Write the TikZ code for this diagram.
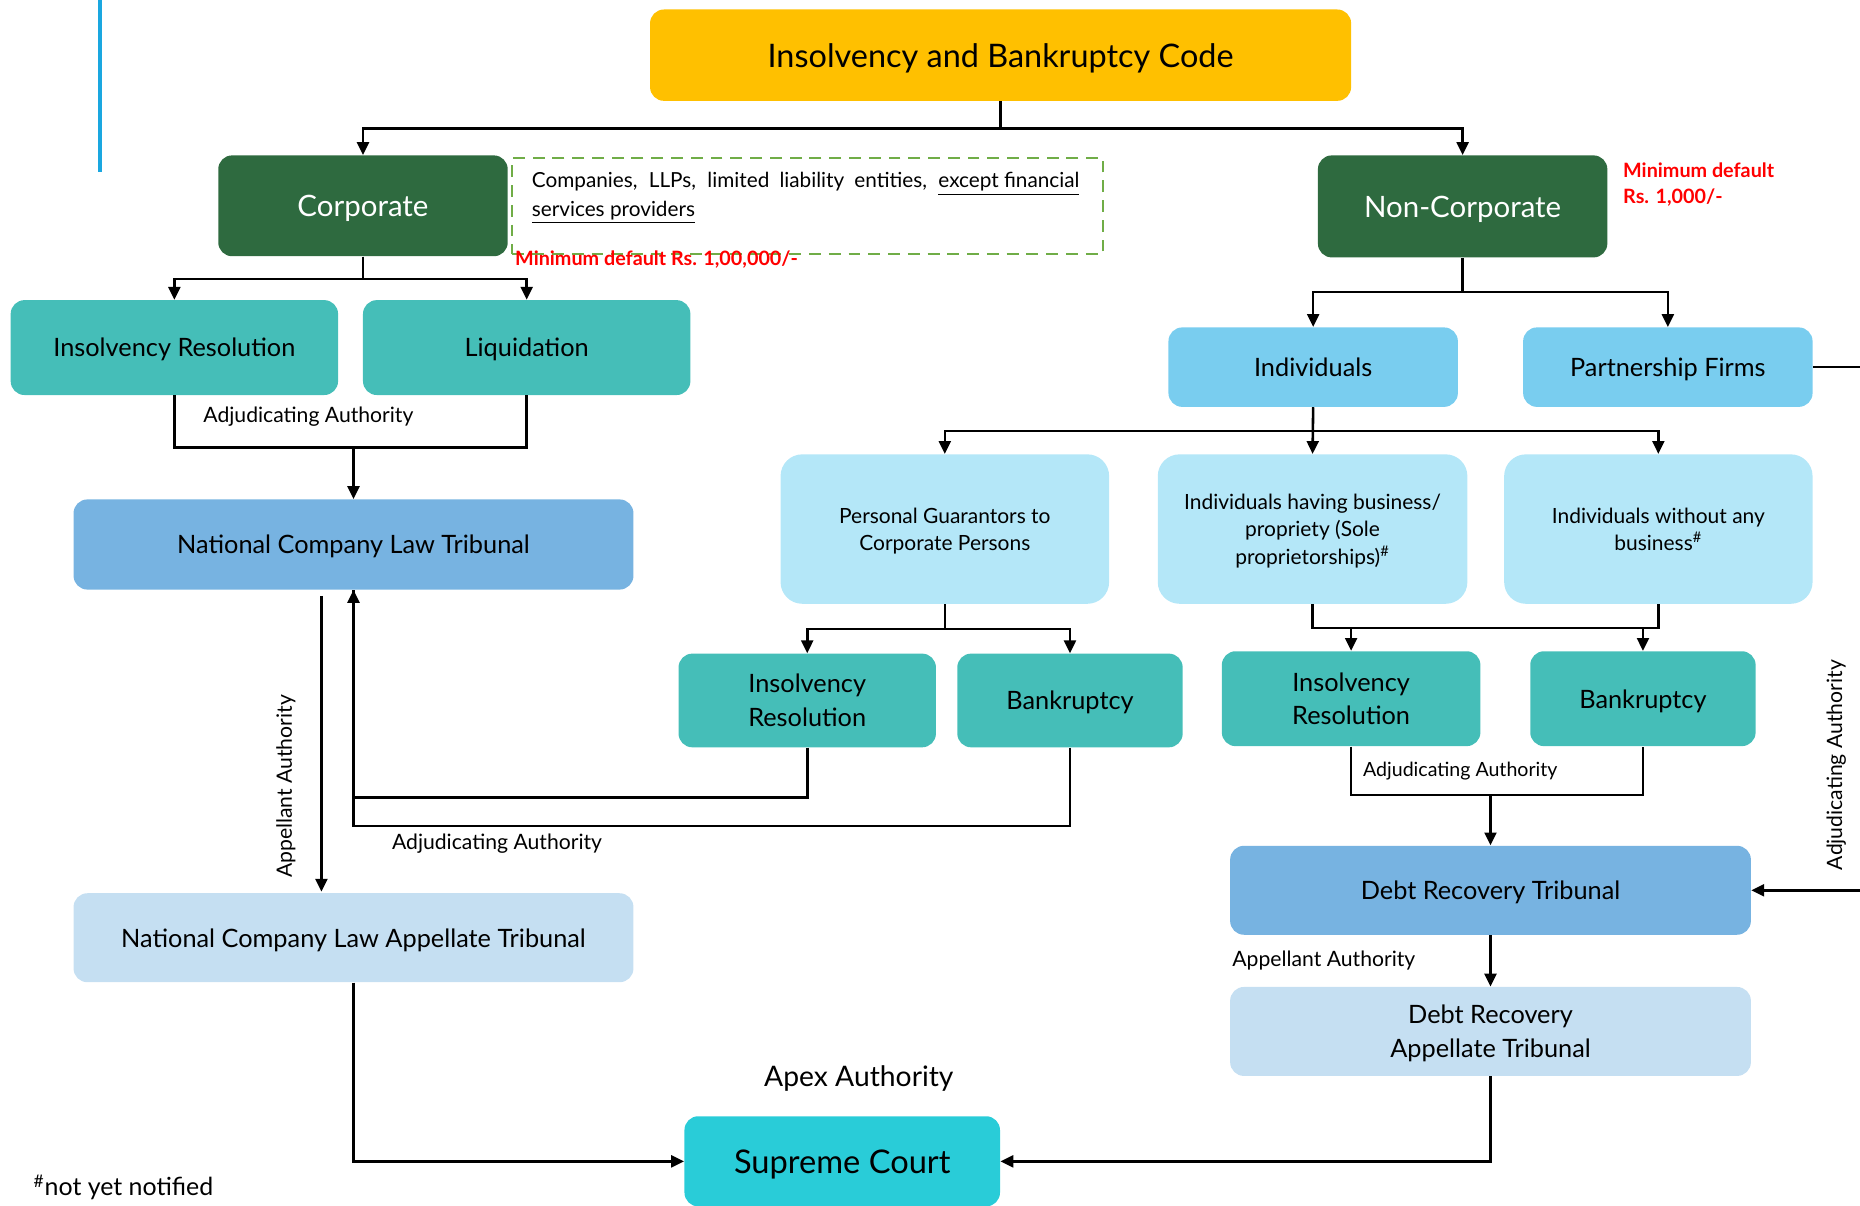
\documentclass[tikz,border=0pt]{standalone}
\usepackage{fontspec}
\setmainfont{Lato}
\usetikzlibrary{arrows.meta,calc}
\definecolor{ibcgold}{HTML}{FFC000}
\definecolor{darkgreen}{HTML}{2E6A3F}
\definecolor{tealbox}{HTML}{45BEB8}
\definecolor{midblue}{HTML}{77B3E1}
\definecolor{paleblue}{HTML}{C5DFF2}
\definecolor{skyblue}{HTML}{79CDEF}
\definecolor{icebox}{HTML}{B4E7F8}
\definecolor{courtcyan}{HTML}{29CCD8}
\definecolor{notegreen}{HTML}{70AD47}
\definecolor{alertred}{HTML}{FF0000}
\definecolor{barblue}{HTML}{1AA7E0}
\begin{document}
\begin{tikzpicture}[x=0.6pt,y=-0.6pt,
  wh/.style 2 args={minimum width=#1*0.6pt, minimum height=#2*0.6pt},
  box/.style={rounded corners=7pt, inner sep=2pt, align=center, text depth=0pt,
    font=\fontsize{12.8}{17}\selectfont},
  bigbox/.style={box, rounded corners=11pt, font=\fontsize{10.6}{13.8}\selectfont},
  conn/.style={line width=1.3pt, black},
  arr/.style={conn, -{Triangle[length=6.5pt,width=6pt]}},
  lbl/.style={font=\fontsize{10.7}{12}\selectfont, inner sep=0pt},
  redlbl/.style={font=\bfseries\fontsize{10}{13}\selectfont, text=alertred, inner sep=0pt, align=left},
]
\useasboundingbox (0,0) rectangle (1568,1016);

% side bar
\draw[barblue, line width=2pt] (84,0) -- (84,145);

% top level
\node[box, fill=ibcgold, wh={591}{77}, font=\fontsize{16.4}{19}\selectfont] (ibc) at (843.5,46.5) {Insolvency and Bankruptcy Code};
\node[box, fill=darkgreen, text=white, wh={244}{85}, font=\fontsize{14.9}{17}\selectfont] (corp) at (306,173.5) {Corporate};
\node[box, fill=darkgreen, text=white, wh={244}{86}, font=\fontsize{14.9}{17}\selectfont] (noncorp) at (1233,174) {Non-Corporate};

% scope note for corporate debtors
\node[draw=notegreen, dashed, line width=1pt, dash pattern=on 6pt off 4pt, wh={498}{81}, inner sep=0pt] (note) at (681,173.5) {};
\node[anchor=north west, inner sep=0pt, align=left, font=\fontsize{10.5}{14.4}\selectfont] (notetext) at (448,145)
  {\makebox[277pt][s]{Companies, LLPs, limited liability entities, \underline{except financial}}\\\underline{services providers}};
\node[redlbl, anchor=west] (mincorp) at (434,219) {Minimum default Rs. 1,00,000/-};
\node[redlbl, anchor=north west] (minnon) at (1368,137) {Minimum default\\Rs. 1,000/-};

% corporate branch
\node[box, fill=tealbox, wh={276}{80}] (ir1) at (147,293) {Insolvency Resolution};
\node[box, fill=tealbox, wh={276}{80}] (liq) at (444,293) {Liquidation};
\node[box, fill=midblue, wh={472}{76}] (nclt) at (298,459) {National Company Law Tribunal};
\node[box, fill=paleblue, wh={472}{75}] (nclat) at (298,790.5) {National Company Law Appellate Tribunal};

% non-corporate branch
\node[box, fill=skyblue, wh={244}{67}] (indiv) at (1107,309.5) {Individuals};
\node[box, fill=skyblue, wh={244}{67}] (pfirms) at (1406,309.5) {Partnership Firms};
\node[bigbox, fill=icebox, wh={277}{126}] (pg) at (796.5,446) {Personal Guarantors to\\Corporate Persons};
\node[bigbox, fill=icebox, wh={261}{126}] (ihb) at (1106.5,446) {Individuals having business/\\propriety (Sole\\proprietorships)\textsuperscript{\#}};
\node[bigbox, fill=icebox, wh={260}{126}] (iwb) at (1398,446) {Individuals without any\\business\textsuperscript{\#}};
\node[box, fill=tealbox, wh={217}{79}] (ir2) at (680.5,590.5) {Insolvency\\Resolution};
\node[box, fill=tealbox, wh={190}{79}] (bk2) at (902,590.5) {Bankruptcy};
\node[box, fill=tealbox, wh={218}{80}] (ir3) at (1139,589) {Insolvency\\Resolution};
\node[box, fill=tealbox, wh={190}{80}] (bk3) at (1385,589) {Bankruptcy};
\node[box, fill=midblue, wh={439}{75}] (drt) at (1256.5,750.5) {Debt Recovery Tribunal};
\node[box, fill=paleblue, wh={439}{75}] (drat) at (1256.5,869.5) {Debt Recovery\\Appellate Tribunal};

% apex
\node[box, fill=courtcyan, wh={266}{76}, font=\fontsize{16.5}{20}\selectfont] (sc) at (710,979) {Supreme Court};
\node[font=\fontsize{14.3}{16}\selectfont, inner sep=0pt] (apex) at (724,909) {Apex Authority};
\node[anchor=west, inner sep=0pt, font=\fontsize{12.6}{14}\selectfont] (foot) at (28,1001) {\textsuperscript{\#}not yet notified};

% connectors: code to categories
\draw[arr] (ibc.south) -- ++(0,23) -| (corp.north);
\draw[arr] (ibc.south) -- ++(0,23) -| (noncorp.north);

% corporate processes
\draw[arr] (corp.south) -- ++(0,19) -| (ir1.north);
\draw[arr] (corp.south) -- ++(0,19) -| (liq.north);
\draw[conn] (ir1.south) -- ++(0,44) -| (liq.south);
\coordinate (ja) at ($(ir1.south)+(151,44)$);
\draw[arr] (ja) -- (nclt.north);
\node[lbl] (aa1) at (260,351) {Adjudicating Authority};

% tribunal to appellate tribunal
\draw[arr] ($(nclt.south)+(-27,5)$) -- ($(nclat.north)+(-27,-1)$);
\node[lbl, rotate=90] (apl1) at (241,663) {Appellant Authority};
\draw[arr] (nclat.south) |- (sc.west);

% non-corporate
\draw[arr] (noncorp.south) -- ++(0,29) -| (indiv.north);
\draw[arr] (noncorp.south) -- ++(0,29) -| (pfirms.north);
\coordinate (pfout) at (1568,309.5);
\draw[conn] (pfirms.east) -- (pfout);
\draw[arr] (indiv.south) -- ++(0,20) -| (pg.north);
\draw[arr] (indiv.south) -- (ihb.north);
\draw[arr] (indiv.south) -- ++(0,20) -| (iwb.north);

% personal guarantors to NCLT
\draw[arr] (pg.south) -- ++(0,21) -| (ir2.north);
\draw[arr] (pg.south) -- ++(0,21) -| (bk2.north);
\draw[conn] (ir2.south) -- ++(0,42) -| (nclt.south);
\draw[arr] (bk2.south) -- ++(0,66) -| (nclt.south);
\node[lbl] (aa2) at (419,711) {Adjudicating Authority};

% individuals to DRT
\coordinate (jb) at ($(ihb.south)+(0,20)$);
\draw[conn] (ihb.south) -- (jb) -| (iwb.south);
\draw[arr] (ir3.north |- jb) -- (ir3.north);
\draw[arr] (bk3.north |- jb) -- (bk3.north);
\coordinate (jc) at ($(ir3.south)+(0,41)$);
\draw[conn] (ir3.south) -- (jc) -| (bk3.south);
\draw[arr] (drt.north |- jc) -- (drt.north);
\node[lbl, font=\fontsize{9.9}{12}\selectfont] (aa3) at (1231,650) {Adjudicating Authority};
\coordinate (drtin) at (1568,750.5);
\draw[arr] (drtin) -- (drt.east);
\node[lbl, rotate=90] (aa4) at (1548,645) {Adjudicating Authority};
\draw[arr] (drt.south) -- (drat.north);
\node[lbl] (apl2) at (1116,810) {Appellant Authority};
\draw[arr] (drat.south) |- (sc.east);

\end{tikzpicture}
\end{document}
